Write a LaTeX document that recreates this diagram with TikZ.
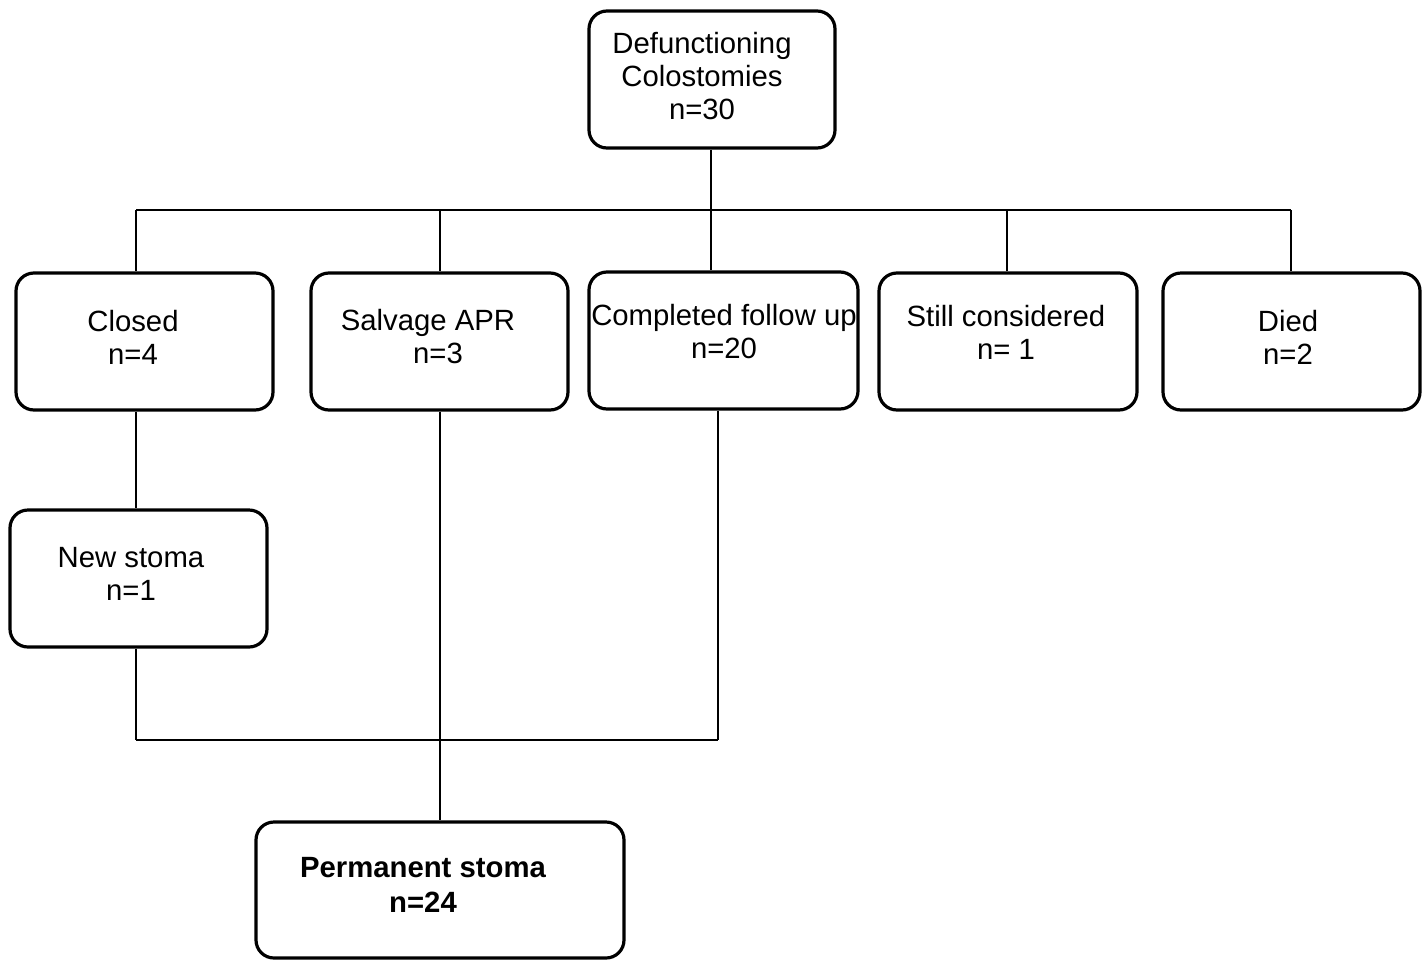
\documentclass[tikz,border=0pt]{standalone}
\usepackage{fontspec}
\setmainfont{Liberation Sans}
\begin{document}
\begin{tikzpicture}[x=1pt,y=-1pt,
  box/.style={draw=black,line width=3.2pt,rounded corners=18pt,inner sep=0pt},
  txt/.style={align=center,inner sep=0pt,font=\fontsize{29.3}{33}\selectfont},
  conn/.style={line width=1.5pt}]
\useasboundingbox (0,0) rectangle (1422,959);
% boxes
\node[box,minimum width=246pt,minimum height=137pt] (top) at (712,79.5) {};
\node[box,minimum width=257pt,minimum height=137pt] (closed) at (144.5,341.5) {};
\node[box,minimum width=257pt,minimum height=137pt] (salv) at (439.5,341.5) {};
\node[box,minimum width=269pt,minimum height=137pt] (comp) at (723.5,340.5) {};
\node[box,minimum width=258pt,minimum height=137pt] (still) at (1008,341.5) {};
\node[box,minimum width=257pt,minimum height=137pt] (died) at (1291.5,341.5) {};
\node[box,minimum width=257pt,minimum height=137pt] (newst) at (138.5,578.5) {};
\node[box,minimum width=368pt,minimum height=136pt] (perm) at (440,890) {};
% texts
\node[txt] (ttop) at (702,76) {Defunctioning\\Colostomies\\n=30};
\node[txt] (tclosed) at (133,337) {Closed\\n=4};
\node[txt] (tsalv) at (428,337) {Salvage APR\\\hspace*{20pt}n=3};
\node[txt] (tcomp) at (724,332) {Completed follow up\\n=20};
\node[txt] (tstill) at (1006,332) {Still considered\\n= 1};
\node[txt] (tdied) at (1288,337) {Died\\n=2};
\node[txt] (tnew) at (131,574) {New stoma\\n=1};
\node[txt,font=\fontsize{29.3}{35}\bfseries] (tperm) at (423,885) {Permanent stoma\\n=24};
% connectors
\coordinate (hL) at (136,210);
\coordinate (hR) at (1291,210);
\coordinate (bL) at (136,740);
\coordinate (bR) at (718,740);
\draw[conn] (top.south -| 711,0) -- (711,210);
\draw[conn] (hL) -- (hR);
\draw[conn] (hL) -- (hL |- closed.north);
\draw[conn] (440,210) -- (440,210 |- salv.north);
\draw[conn] (711,210) -- (711,210 |- comp.north);
\draw[conn] (1007,210) -- (1007,210 |- still.north);
\draw[conn] (hR) -- (hR |- died.north);
\draw[conn] (closed.south -| 136,0) -- (newst.north -| 136,0);
\draw[conn] (newst.south -| 136,0) -- (bL);
\draw[conn] (bL) -- (bR);
\draw[conn] (comp.south -| bR) -- (bR);
\draw[conn] (salv.south -| 440,0) -- (perm.north -| 440,0);
\end{tikzpicture}
\end{document}
